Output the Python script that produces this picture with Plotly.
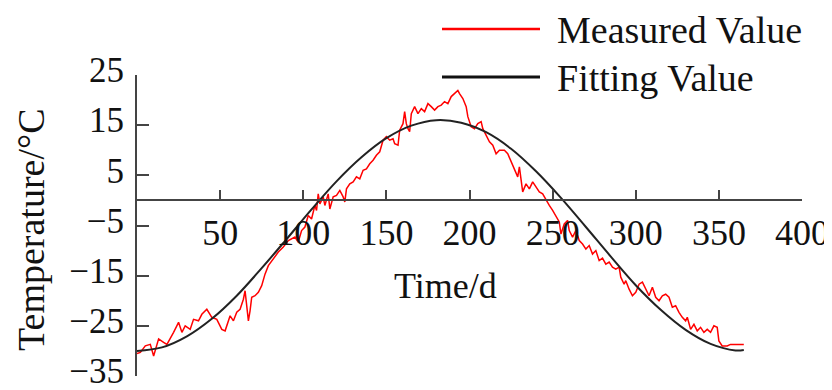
import plotly.graph_objects as go

measured_day = [0, 2, 5, 8, 10, 13, 16, 18, 22, 25, 27, 29, 32, 34, 37, 39, 42, 45, 48, 51,
                53, 56, 58, 60, 62, 64, 65, 66, 67, 68, 69, 71, 73, 75, 77, 79, 82, 85, 88, 91,
                95, 97, 99, 101, 103, 105, 107, 108, 109, 110, 112, 113, 115, 116, 118, 120, 122, 124, 125, 126,
                128, 130, 132, 134, 136, 138, 140, 142, 144, 146, 148, 150, 152, 154, 155, 157, 158, 160, 161, 162,
                163, 164, 165, 167, 169, 171, 173, 175, 177, 179, 181, 183, 185, 187, 189, 191, 193, 194, 196, 198,
                199, 201, 203, 205, 207, 208, 210, 212, 214, 216, 218, 221, 223, 225, 227, 229, 230, 231, 232, 234,
                236, 238, 240, 242, 244, 246, 248, 250, 252, 254, 255, 257, 259, 260, 262, 264, 266, 268, 270, 272,
                274, 276, 278, 280, 282, 284, 286, 288, 290, 291, 293, 294, 296, 298, 300, 302, 304, 306, 308, 310,
                312, 314, 316, 318, 320, 322, 324, 326, 328, 330, 331, 333, 335, 337, 339, 341, 343, 345, 347, 349,
                350, 352, 355, 357, 365]
measured_temp = [-30.5, -30.3, -29.0, -28.7, -31.0, -27.6, -28.3, -28.7, -26.3, -24.3, -26.3, -25.0, -25.7, -23.7, -24.0, -22.7, -21.7, -23.3, -23.7, -25.7,
                 -26.0, -23.0, -24.0, -22.3, -21.7, -19.7, -18.0, -21.0, -24.0, -22.0, -19.3, -19.0, -18.3, -17.0, -14.7, -13.0, -11.7, -10.3, -9.3, -8.0,
                 -7.3, -8.3, -6.0, -5.3, -3.0, -3.7, -1.0, -2.0, 1.3, -0.7, 0.7, -1.0, 1.3, -1.7, 0.7, 1.0, 2.0, 0.7, -0.3, 2.3,
                 3.3, 3.7, 4.7, 4.3, 6.0, 6.3, 7.3, 8.0, 9.0, 9.7, 12.0, 12.7, 12.0, 12.3, 11.3, 11.0, 14.0, 15.3, 17.7, 15.3,
                 14.3, 13.7, 17.3, 18.7, 17.3, 18.3, 17.7, 19.3, 18.7, 18.0, 18.7, 19.0, 19.7, 19.3, 20.7, 21.3, 21.9, 21.3, 20.3, 18.7,
                 16.7, 14.7, 14.3, 15.3, 15.7, 14.3, 13.0, 11.7, 11.0, 9.3, 10.0, 10.0, 9.3, 7.7, 6.3, 4.7, 6.7, 4.3, 1.7, 3.3,
                 2.3, 3.7, 2.7, 1.7, 1.3, 0.0, -1.0, -2.0, -3.3, -4.3, -6.7, -4.7, -4.0, -6.0, -7.3, -6.0, -8.0, -8.7, -9.7, -9.0,
                 -10.7, -10.0, -12.0, -11.5, -12.7, -12.3, -13.3, -13.7, -13.3, -15.3, -16.7, -16.0, -17.7, -19.0, -18.3, -16.7, -16.3, -17.7, -19.0, -17.3,
                 -19.3, -20.0, -19.0, -18.7, -19.3, -21.3, -21.0, -22.3, -23.3, -24.0, -23.3, -25.7, -24.7, -26.0, -25.3, -26.3, -25.7, -26.3, -25.0, -25.3,
                 -28.0, -29.0, -29.0, -28.7, -28.7]

# Fitting values
fit_day = [0, 15, 30, 45, 60, 75, 90, 105, 120, 135, 150, 165, 180, 195, 210, 225, 240, 255, 270, 285,
           300, 315, 330, 345, 360, 365]
fit_temp = [-30.0, -29.3, -27.1, -23.6, -19.0, -13.5, -7.7, -1.8, 3.8, 8.6, 12.4, 14.9, 16.0, 15.5, 13.6, 10.3, 5.8, 0.5, -5.3, -11.2,
            -16.9, -21.8, -25.8, -28.6, -29.9, -29.8]

x_ticks = [50, 100, 150, 200, 250, 300, 350, 400]
y_ticks = [-35, -25, -15, -5, 5, 15, 25]
series_names = ["Measured Value", "Fitting Value"]
x_title = "Time/d"
y_title = "Temperature/°C"

# The page body adds an 8px margin, so the figure is made smaller and sits at page offset (8, 8).
OFF = 8
W, H = 832 - OFF, 390 - OFF
ML, MR, MT = 137 - OFF, 30, 75 - OFF
MB = H - (376 - OFF)
PW, PH = W - ML - MR, H - MT - MB


def px_x(p):
    return (p - OFF - ML) / PW


def px_y(p):
    return (H - MB - (p - OFF)) / PH


FONT = "Liberation Serif, Times New Roman, serif"
AXC = "#444444"

fig = go.Figure()
fig.add_trace(go.Scatter(x=measured_day, y=measured_temp, mode="lines", name=series_names[0],
                         line=dict(color="#ff0000", width=1.5), showlegend=False))
fig.add_trace(go.Scatter(x=fit_day, y=fit_temp, mode="lines", name=series_names[1],
                         line=dict(color="#222222", width=2, shape="spline"), showlegend=False))

fig.update_layout(
    width=W, height=H,
    margin=dict(l=ML, r=MR, t=MT, b=MB, autoexpand=False),
    paper_bgcolor="white", plot_bgcolor="white",
    font=dict(family=FONT, size=36, color="#111111"),
    xaxis=dict(range=[0, 400], tickvals=x_ticks, showgrid=False, zeroline=False,
               showline=True, linewidth=2, linecolor=AXC,
               ticks="inside", ticklen=9, tickwidth=2, tickcolor=AXC,
               anchor="free", position=35 / 60, ticklabelstandoff=0,
               ticklabeloverflow="allow", automargin=False, tickfont=dict(size=36)),
    yaxis=dict(range=[-35, 25], tickvals=y_ticks, showgrid=False, zeroline=False,
               showline=True, linewidth=2, linecolor=AXC,
               ticks="inside", ticklen=12, tickwidth=2, tickcolor=AXC,
               ticklabelstandoff=4, ticklabelshift=-5, ticklabeloverflow="allow",
               automargin=False, tickfont=dict(size=35)),
)

# Axis titles
fig.add_annotation(text=y_title, xref="paper", yref="paper", x=px_x(31), y=px_y(230),
                   textangle=-90, showarrow=False, xanchor="center", yanchor="middle",
                   font=dict(size=38))
fig.add_annotation(text=x_title, xref="paper", yref="paper", x=px_x(445), y=px_y(286),
                   showarrow=False, xanchor="center", yanchor="middle", font=dict(size=36))

# Legend (drawn manually to match the long line samples)
legend_colors = ["#ff0000", "#111111"]
legend_rows = [29, 77]
legend_widths = [2.5, 3]
for name, col, row, lw in zip(series_names, legend_colors, legend_rows, legend_widths):
    fig.add_shape(type="line", xref="paper", yref="paper", x0=px_x(442), x1=px_x(540),
                  y0=px_y(row), y1=px_y(row), line=dict(color=col, width=lw))
    fig.add_annotation(text=name, xref="paper", yref="paper", x=px_x(555), y=px_y(row + 1),
                       showarrow=False, xanchor="left", yanchor="middle", font=dict(size=38))

fig.write_html("out.html")
